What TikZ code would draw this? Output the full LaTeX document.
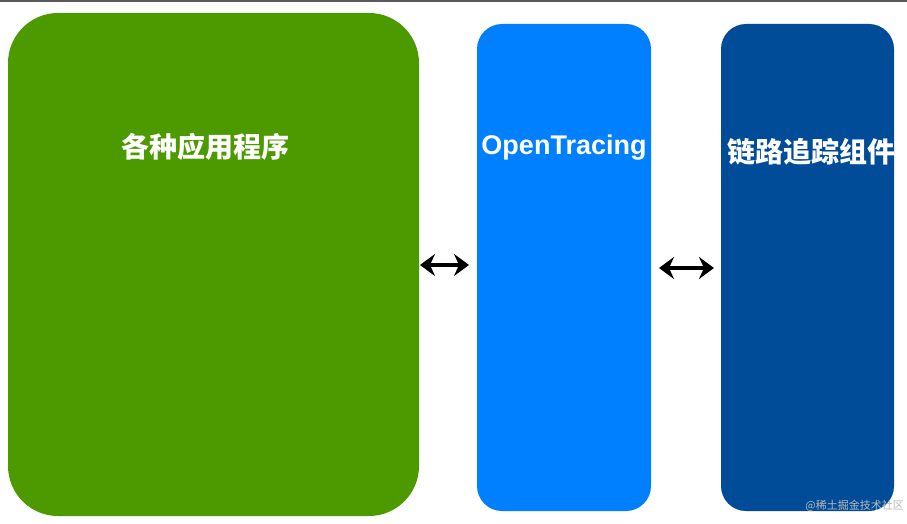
\documentclass[tikz,border=0pt]{standalone}
\usepackage{fontspec}
\setmainfont{Liberation Sans}
\newfontfamily\cjk{Noto Sans CJK SC}
\usetikzlibrary{arrows.meta}
\definecolor{appgreen}{HTML}{4D9A00}
\definecolor{otblue}{HTML}{007FFF}
\definecolor{trdark}{HTML}{004C99}
\tikzset{
  box/.style={fill=#1, draw=none},
  lbl/.style={text=white, font=\bfseries\fontsize{27}{30}\selectfont, inner sep=0pt},
  biarrow/.style={line width=4pt, black, arrows={Stealth[length=15pt,width=22pt,inset=5pt]-Stealth[length=15pt,width=22pt,inset=5pt]}}
}
\begin{document}
\begin{tikzpicture}[x=1pt,y=-1pt]
\path[use as bounding box, fill=white] (0,0) rectangle (907,524);
\fill[gray!70!black] (0,0) rectangle (907,2.5);
\fill[box=appgreen, rounded corners=50pt] (8,13) rectangle (419,516);
\fill[box=otblue, rounded corners=25pt] (477,24) rectangle (651,511);
\fill[box=trdark, rounded corners=25pt] (721,24) rectangle (894,511);
\node[lbl, font=\cjk\bfseries\fontsize{28}{30}\selectfont] (app) at (205,147) {各种应用程序};
\node[lbl] (ot) at (564,148) {OpenTracing};
\node[lbl, font=\cjk\bfseries\fontsize{28}{30}\selectfont] (tr) at (811,152) {链路追踪组件};
\coordinate (a1) at (420,265);
\coordinate (b1) at (469,265);
\coordinate (a2) at (659,268);
\coordinate (b2) at (714,268);
\draw[biarrow] (a1) -- (b1);
\draw[biarrow] (a2) -- (b2);
\node[text=gray!55, font=\cjk\fontsize{11}{12}\selectfont, anchor=east, inner sep=0pt] (wm) at (904,506) {@稀土掘金技术社区};
\end{tikzpicture}
\end{document}
